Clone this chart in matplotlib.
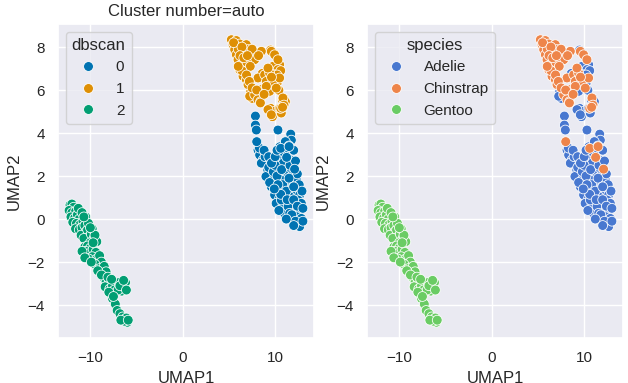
import numpy as np
import pandas as pd
import matplotlib
matplotlib.use("Agg")
import matplotlib.pyplot as plt
import seaborn as sns

# UMAP embedding
# dbscan cluster 0 (Adelie part)
a0_x = [7.86, 7.86, 7.96, 10.3, 11.68, 11.75, 8.07, 8.14, 8.32, 8.68, 9.04, 8.5, 9.2, 9.6, 9.0,
        9.76, 10.1, 10.5, 11.0, 11.39, 10.66, 11.2, 10.3, 10.85, 9.94, 11.75, 12.1, 11.4, 11.0,
        10.5, 11.75, 10.66, 12.3, 11.4, 10.3, 9.94, 10.48, 10.1, 10.85, 11.0, 10.66, 12.1, 12.65,
        12.47, 12.83, 12.1, 11.93, 12.65, 12.3, 12.83, 12.47, 12.65, 11.75, 11.4, 11.57, 11.93,
        11.57, 9.58, 8.3, 8.9, 9.3, 9.8, 10.2, 10.8, 11.2, 10.6, 11.3, 12.0, 12.4, 11.8, 12.2,
        9.4, 10.0, 10.7, 11.6, 8.8, 9.3, 9.6, 10.0, 10.2, 11.1, 11.5, 12.0, 12.2, 12.4, 12.6,
        12.9, 13.0, 13.0, 12.0, 11.2, 10.4, 10.3, 9.9, 11.5, 12.0]
a0_y = [4.79, 4.37, 4.14, 4.14, 3.95, 3.67, 3.6, 3.21, 2.98, 2.74, 2.6, 2.6, 2.28, 2.05, 1.98,
        1.81, 1.66, 3.36, 3.28, 3.05, 2.98, 2.82, 2.74, 2.6, 2.82, 2.74, 2.36, 2.28, 2.05,
        2.2, 1.98, 1.81, 1.81, 1.66, 1.35, 1.12, 0.97, 0.73, 0.65, 0.27, 0.89, 1.27, 1.12,
        0.89, 0.73, 0.65, 0.42, 0.42, 0.11, 0.03, -0.2, -0.35, -0.04, 0.58, 0.27, 1.5,
        1.04, 1.5, 3.3, 2.9, 2.4, 2.2, 2.0, 1.6, 1.3, 1.15, 0.9, 0.9, 0.6, 0.2, -0.1,
        1.7, 2.5, 2.3, 2.5, 3.2, 2.9, 2.6, 2.9, 3.2, 3.6, 3.4, 3.2, 2.7, 2.1, 1.6,
        1.3, 0.5, -0.1, -0.3, 0.0, 0.4, 1.6, 1.4, 1.9, 1.5]
# dbscan cluster 1 (Adelie part)
a1_x = [9.5, 9.87, 8.6, 9.87, 9.33, 10.2, 7.35, 7.53, 8.97, 10.4, 10.95, 11.1, 9.5, 9.87, 9.7,
        10.77, 10.48, 9.76, 10.3, 9.4, 9.22, 9.58, 9.94, 10.66, 10.48, 7.24, 10.6, 10.2]
a1_y = [7.86, 7.7, 6.77, 6.54, 6.23, 6.31, 5.92, 5.61, 6.15, 5.99, 5.61, 5.46, 5.15, 5.0, 4.76,
        5.54, 7.18, 7.1, 6.95, 5.94, 5.09, 4.85, 6.71, 4.93, 5.16, 5.71, 6.9, 6.7]
# dbscan cluster 0 (Chinstrap part)
c0_x = [8.0, 10.6, 11.5, 11.24, 12.1]
c0_y = [3.6, 3.29, 3.37, 2.87, 2.32]
# dbscan cluster 1 (Chinstrap part)
c1_x = [5.26, 5.8, 5.44, 6.16, 6.88, 5.62, 6.52, 7.06, 7.24, 7.78, 8.5, 7.78, 5.8, 5.98, 6.34,
        6.16, 6.7, 6.52, 6.88, 7.06, 7.78, 8.14, 8.43, 8.14, 8.86, 9.4, 9.04, 9.76, 10.48, 9.58,
        9.94, 10.3, 9.22, 8.5, 9.04, 10.12, 10.84, 10.6, 10.95, 10.8, 8.4, 6.0, 6.9, 7.3, 6.4,
        5.5, 6.4, 7.5, 8.2, 6.2, 6.6, 7.0, 6.0, 6.9, 7.2, 7.5, 8.0, 8.8, 9.6]
c1_y = [8.34, 8.3, 8.11, 8.14, 8.11, 7.88, 7.8, 7.88, 7.61, 7.64, 7.8, 7.41, 7.64, 7.41, 7.18,
        6.95, 6.87, 6.64, 6.48, 6.25, 5.78, 5.55, 5.46, 6.56, 6.71, 6.79, 6.4, 6.4, 6.56, 7.8,
        7.64, 7.41, 7.02, 6.02, 6.17, 6.09, 5.63, 5.15, 5.3, 5.2, 5.4, 7.9, 7.3, 7.1, 6.9,
        8.2, 8.0, 7.9, 7.6, 7.6, 7.5, 7.6, 7.1, 6.7, 6.4, 6.1, 6.0, 5.8, 6.6]
# dbscan cluster 2 (Gentoo)
g2_x = [-12.2, -12.0, -11.8, -12.3, -12.0, -11.6, -12.1, -11.7, -11.4, -11.2, -11.9, -11.5,
        -11.1, -10.8, -11.6, -11.2, -10.9, -10.6, -10.5, -11.0, -10.3, -10.2, -10.7, -9.9, -9.6,
        -9.3, -10.0, -10.5, -10.2, -9.8, -9.5, -10.6, -10.3, -10.0, -10.5, -10.1, -9.7, -9.4,
        -9.8, -9.3, -10.2, -9.0, -8.8, -9.5, -9.0, -8.5, -8.3, -8.6, -8.3, -8.0, -8.4, -7.9,
        -7.6, -7.8, -7.4, -6.9, -6.5, -6.3, -6.6, -7.0, -6.2, -7.6, -7.3, -7.1, -6.8, -6.5,
        -6.2, -6.0, -6.3, -6.1, -11.3, -10.9, -10.7, -10.0, -9.7, -10.9, -10.6, -9.9, -9.2,
        -8.8, -8.1, -7.7, -8.0, -7.5, -6.8, -6.4, -6.1, -6.7, -5.9]
g2_y = [0.65, 0.7, 0.55, 0.4, 0.3, 0.35, 0.1, 0.05, 0.2, 0.0, -0.15, -0.2, -0.25, -0.1, -0.45,
        -0.5, -0.4, -0.3, -0.6, -0.75, -0.5, -0.85, -0.9, -0.7, -0.9, -1.05, -1.1, 0.1, -0.2,
        -0.45, -0.75, -1.3, -1.25, -1.35, -1.5, -1.6, -1.4, -1.55, -1.75, -1.85, -1.85, -1.7,
        -2.0, -2.1, -2.3, -2.2, -2.45, -2.7, -2.9, -3.0, -3.15, -3.25, -3.1, -3.5, -3.3,
        -2.95, -3.0, -3.2, -3.35, -3.3, -2.95, -3.7, -3.95, -4.25, -4.4, -4.55, -4.65, -4.8,
        -4.75, -4.6, 0.5, 0.3, 0.1, -0.4, -1.1, -1.5, -1.8, -2.0, -2.4,
        -2.6, -2.7, -2.8, -3.4, -3.6, -3.1, -2.85, -3.3, -4.7, -4.7]

df = pd.DataFrame({
    "UMAP1": a0_x + a1_x + c0_x + c1_x + g2_x,
    "UMAP2": a0_y + a1_y + c0_y + c1_y + g2_y,
    "dbscan": [0] * len(a0_x) + [1] * len(a1_x) + [0] * len(c0_x) + [1] * len(c1_x) + [2] * len(g2_x),
    "species": ["Adelie"] * (len(a0_x) + len(a1_x)) + ["Chinstrap"] * (len(c0_x) + len(c1_x))
               + ["Gentoo"] * len(g2_x),
})

sns.set_theme()
plt.rcParams["font.family"] = ["Liberation Sans", "DejaVu Sans"]

fig, axes = plt.subplots(1, 2, figsize=(6.28, 3.83), dpi=100)
fig.subplots_adjust(left=58 / 628, right=623 / 628, top=1 - 24 / 383, bottom=1 - 338 / 383,
                    wspace=0.207)

sns.scatterplot(data=df, x="UMAP1", y="UMAP2", hue="dbscan", hue_order=[0, 1, 2],
                palette="colorblind", s=50, ax=axes[0])
axes[0].set_title("Cluster number=auto")
sns.move_legend(axes[0], "upper left")

sns.scatterplot(data=df, x="UMAP1", y="UMAP2", hue="species",
                hue_order=["Adelie", "Chinstrap", "Gentoo"], palette="muted", s=50, ax=axes[1])
sns.move_legend(axes[1], "upper left")

for ax in axes:
    ax.set_xlim(-13.5, 14.2)
    ax.set_ylim(-5.53, 9.07)

fig.savefig("out.png", dpi=100)
